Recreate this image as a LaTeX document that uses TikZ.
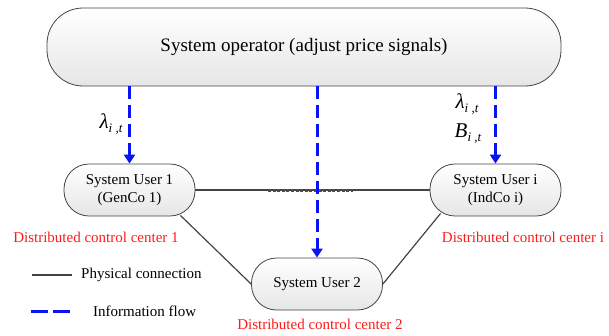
\documentclass[tikz,border=0pt]{standalone}
\usepackage{fontspec}
\setmainfont{Liberation Serif}
\usetikzlibrary{arrows.meta,calc}
\definecolor{edgegray}{HTML}{444444}
\definecolor{boxgray}{HTML}{E6E6E6}
\definecolor{flowblue}{HTML}{0A14F0}
\definecolor{labelred}{HTML}{FF1A1A}
\tikzset{
  userbox/.style={draw=edgegray, line width=0.8pt, rounded corners=25pt, top color=white, bottom color=boxgray,
    minimum width=131pt, minimum height=52pt, align=center, inner sep=2pt,
    font=\fontsize{15}{18}\selectfont},
  opbox/.style={draw=edgegray, line width=0.8pt, rounded corners=36pt, top color=white, bottom color=boxgray,
    minimum width=514pt, minimum height=78pt, font=\fontsize{19}{22}\selectfont},
  phys/.style={draw=edgegray, line width=1.2pt},
  physdot/.style={draw=black!70, line width=3pt, line cap=butt, dash pattern=on 3pt off 1.6pt},
  info/.style={draw=flowblue, line width=3pt, dash pattern=on 13pt off 6pt,
    -{Triangle[width=11pt,length=9pt]}},
  infolegend/.style={draw=flowblue, line width=3pt, dash pattern=on 17pt off 5pt},
  centerlabel/.style={text=labelred, font=\fontsize{15}{18}\selectfont, inner sep=0pt},
  legendtext/.style={font=\fontsize{15}{18}\selectfont, anchor=west, inner sep=0pt},
  sym/.style={font=\fontsize{21}{24}\selectfont\itshape, inner sep=0pt}
}
\newcommand{\symsub}[1]{\raisebox{-4pt}{\fontsize{13}{14}\selectfont #1}}
\begin{document}
\begin{tikzpicture}[x=1pt,y=-1pt]
\useasboundingbox (0,0) rectangle (609,335);
% nodes
\node[opbox] (top) at (304,47) {System operator (adjust price signals)};
\node[userbox] (u1) at (129.5,190) {System User 1\\(GenCo 1)};
\node[userbox] (ui) at (495.5,190) {System User i\\(IndCo i)};
\node[userbox] (u2) at (317,284) {System User 2};
% physical connections
\coordinate (d1) at (268,190);
\coordinate (d2) at (353,190);
\draw[phys] (u1.east) -- (ui.west);
\draw[physdot] (d1) -- (d2);
\coordinate (u1low) at ([xshift=-15pt,yshift=1pt]u1.south east);
\coordinate (uilow) at ([xshift=11pt,yshift=3pt]ui.south west);
\draw[phys] (u1low) -- (u2.west);
\draw[phys] (uilow) -- (u2.east);
% information flow
\draw[info] (u1.north |- top.south) -- (u1.north);
\draw[info] (u2.north |- top.south) -- (u2.north);
\draw[info] (ui.north |- top.south) -- (ui.north);
% symbols
\node[sym] (l1) at (111,124) {λ\symsub{i ,t}};
\node[sym] (l2) at (467,104) {λ\symsub{i ,t}};
\node[sym] (b2) at (468,134) {B\symsub{i ,t}};
% red labels
\node[centerlabel] (c1) at (96,237) {Distributed control center 1};
\node[centerlabel] (ci) at (523,237) {Distributed control center i};
\node[centerlabel] (c2) at (320,324) {Distributed control center 2};
% legend
\coordinate (lp1) at (32,275);
\coordinate (lp2) at (72,275);
\draw[phys] (lp1) -- (lp2);
\node[legendtext] (lpt) at (81,275) {Physical connection};
\coordinate (li1) at (31,311);
\coordinate (li2) at (70,311);
\draw[infolegend] (li1) -- (li2);
\node[legendtext] (lit) at (93,311) {Information flow};
\end{tikzpicture}
\end{document}
